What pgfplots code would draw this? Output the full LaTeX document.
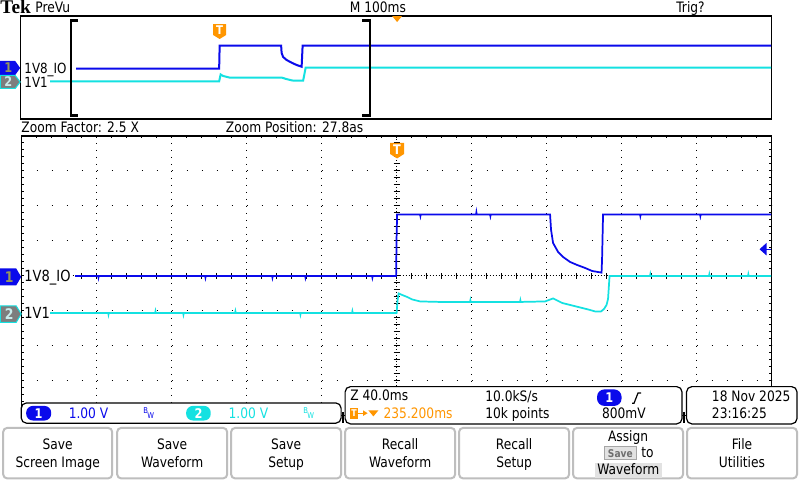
\documentclass[border=0pt]{standalone}
\usepackage{pgfplots}
\pgfplotsset{compat=1.18}
\usepackage{fontspec}
\setmainfont{DejaVu Sans}[FakeStretch=0.85]
\newfontfamily\tekfont{Liberation Serif}
\definecolor{chA}{RGB}{10,10,235}
\definecolor{chB}{RGB}{20,225,225}
\definecolor{tko}{RGB}{255,150,0}
\definecolor{btn}{RGB}{190,190,190}
\definecolor{olv}{RGB}{150,150,90}
\definecolor{gbadge}{RGB}{125,125,125}
\definecolor{sbg}{RGB}{226,226,226}
\definecolor{lcy}{RGB}{200,235,235}
\definecolor{sbd}{RGB}{165,165,165}
\definecolor{stx}{RGB}{110,110,110}
\newcommand\tx[3]{\node[anchor=base west,#3] at #1 {#2};}
\newcommand\tc[3]{\node[anchor=base,#3] at #1 {#2};}
\begin{document}
\begin{tikzpicture}[every node/.style={inner sep=0pt,font=\fontsize{10.8}{12}\selectfont}]
\begin{scope}[x=0.75pt,y=-0.75pt]
\fill[white] (0,0) rectangle (800,480);
% preview frame
\draw[line width=0.8pt] (20.5,16) rectangle (771.5,119);
% main grid
\foreach \i in {1,2,3,4,6,7,8,9} \draw[line width=0.75pt, dash pattern=on 0.75pt off 4.5pt] ({21.5+75*\i},136) -- ({21.5+75*\i},416);
\foreach \j in {1,2,3,5,6,7} \draw[line width=0.75pt, dash pattern=on 0.75pt off 10.5pt] (21.5,{136+35*\j}) -- (771.5,{136+35*\j});
\draw[line width=0.75pt, dash pattern=on 0.75pt off 1.5pt] (21.5,276) -- (771.5,276);
\draw[line width=0.75pt, dash pattern=on 0.75pt off 1.5pt] (396.5,136) -- (396.5,416);
\foreach \k in {1,...,49} \draw[line width=0.75pt] ({21.5+15*\k},273) -- ({21.5+15*\k},279);
\foreach \k in {1,...,39} \draw[line width=0.75pt] (393.5,{136+7*\k}) -- (399.5,{136+7*\k});
\foreach \k in {1,...,49} {\draw[line width=0.75pt] ({21.5+15*\k},136) -- ({21.5+15*\k},138.5);
  \draw[line width=0.75pt] ({21.5+15*\k},416) -- ({21.5+15*\k},413.5);}
\foreach \k in {1,...,39} {\draw[line width=0.75pt] (21,{136+7*\k}) -- (23.5,{136+7*\k});
  \draw[line width=0.75pt] (771.5,{136+7*\k}) -- (769,{136+7*\k});}
\draw[line width=0.8pt] (21,136) rectangle (771.5,416);
\end{scope}
\begin{axis}[at={(0pt,0pt)},anchor=north west,width=600pt,height=360pt,scale only axis,
  xmin=0,xmax=800,ymin=0,ymax=480,y dir=reverse,hide axis,clip=false]
% preview traces
\addplot[chB,line width=1.5pt] coordinates {(50,81.3) (219,81.3) (220.5,74.5) (223,76) (230,77.7) (282,77.7) (286,79) (292,80.5) (303,80.7) (304.5,73) (305.5,67.7) (771,67.7)};
\addplot[chA,line width=1.5pt] coordinates {(76,68.7) (219,68.7) (219.5,45.7) (281,45.7) (281.5,53) (283,57) (286.5,60) (291.5,62.7) (296.5,65) (301.5,66.7) (302.5,45.7) (771,45.7)};
% main traces
\addplot[chB,line width=1.3pt] coordinates {(49,313) (108,313) (108.3,314.5) (108.6,313) (155,313) (155.3,311.5) (155.6,313) (183,313) (183.3,314.5) (183.6,313) (235,313) (235.3,311.5) (235.6,313) (300,313) (300.3,314.5) (300.6,313) (352,313) (352.3,311.5) (352.6,313) (396.5,313) (397.5,300) (398.5,293.5) (402,295) (407,297) (412,299.5) (420,301.5) (440,302) (470,302) (470.3,300.5) (470.6,302) (500,302) (520,302) (520.3,300.5) (520.6,302) (545,301.5) (549,300) (553,298.5) (556,300) (562,303) (570,305) (580,307.5) (588,309.5) (595,311.5) (601,311.5) (604,309) (606.5,305) (608,299) (609.5,276) (650,276) (650.3,274.5) (650.6,276) (709,276) (709.3,274.5) (709.6,276) (748,276) (748.3,274.5) (748.6,276) (771,276)};
\addplot[chA,line width=1.3pt] coordinates {(75,276) (98,276) (98.3,277.5) (98.6,276) (205,276) (205.3,277.5) (205.6,276) (272,276) (272.3,277.5) (272.6,276) (305,276) (305.3,277.5) (305.6,276) (372,276) (372.3,277.5) (372.6,276) (396,276) (396.5,237) (397,214.5) (420,214.5) (420.3,216) (420.6,214.5) (476,214.5) (476.3,212.5) (476.6,214.5) (490,214.5) (490.3,216) (490.6,214.5) (550,214.5) (551,230) (553,243) (558,252) (563,257) (570,262) (577,265) (585,268) (592,271) (601.5,272.7) (602,260) (603,214.5) (640,214.5) (640.3,216) (640.6,214.5) (700,214.5) (700.3,216) (700.6,214.5) (771,214.5)};
\end{axis}
\begin{scope}[x=0.75pt,y=-0.75pt]
% brackets
\draw[line width=1.6pt] (78,20.5) -- (70.5,20.5) -- (70.5,115.5) -- (78,115.5);
\draw[line width=1.6pt] (362,20.5) -- (369.5,20.5) -- (369.5,115.5) -- (362,115.5);
% top texts
\tx{(0,13.8)}{\tekfont\bfseries\fontsize{14.5}{15}\selectfont Tek}{}
\tx{(35,12.7)}{PreVu}{}
\tx{(349.5,12.7)}{M 100ms}{}
\tx{(676,12.7)}{Trig?}{}
\fill[tko] (392,16) -- (402,16) -- (397,22) -- cycle;
\tx{(21,132.5)}{Zoom Factor: 2.5 X}{}
\tx{(225.5,132.5)}{Zoom Position: 27.8as}{}
% T badges
\fill[tko] (213,24) -- (226,24) -- (226,35) -- (219.5,39) -- (213,35) -- cycle;
\node[white,font=\bfseries\fontsize{9}{9}\selectfont] at (219.5,30.5) {T};
\fill[tko] (390,143) -- (404,143) -- (404,154) -- (397,158.5) -- (390,154) -- cycle;
\node[white,font=\bfseries\fontsize{10}{10}\selectfont] at (397,149.5) {T};
% channel badges preview
\fill[chA] (0,61) -- (15,61) -- (20,68) -- (15,75) -- (0,75) -- cycle;
\node[olv,font=\bfseries\fontsize{10}{10}\selectfont] at (8,68) {1};
\filldraw[fill=gbadge,draw=chB,line width=0.75pt] (0.3,75.5) -- (15,75.5) -- (20,82) -- (15,88.5) -- (0.3,88.5) -- cycle;
\node[lcy,font=\bfseries\fontsize{10}{10}\selectfont] at (8,82) {2};
\tx{(24,73.3)}{1V8\_IO}{font=\fontsize{10.5}{12}\selectfont}
\tx{(24,87.8)}{1V1}{font=\fontsize{10.5}{12}\selectfont}
% channel badges main
\fill[chA] (0,268.5) -- (16,268.5) -- (21,277) -- (16,285.5) -- (0,285.5) -- cycle;
\node[olv,font=\bfseries\fontsize{11}{11}\selectfont] at (9,277) {1};
\filldraw[fill=gbadge,draw=chB,line width=0.75pt] (0.3,306) -- (16,306) -- (21,314) -- (16,322.5) -- (0.3,322.5) -- cycle;
\node[lcy,font=\bfseries\fontsize{11}{11}\selectfont] at (9,314) {2};
\tx{(24,281.7)}{1V8\_IO}{fill=white,font=\fontsize{11.5}{12}\selectfont}
\tx{(24,318.7)}{1V1}{fill=white,font=\fontsize{11.5}{12}\selectfont}
% trigger level arrow
\draw[chA,line width=1pt] (762,249.3) -- (771,249.3);
\fill[chA] (759.5,249.3) -- (766.5,243) -- (766.5,255.5) -- cycle;
% status boxes
\filldraw[fill=white,draw=black,line width=0.9pt,rounded corners=4pt] (21,403) rectangle (341,423.3);
\filldraw[fill=white,draw=black,line width=0.9pt,rounded corners=4pt] (345,386.7) rectangle (682,424);
\filldraw[fill=white,draw=black,line width=0.9pt,rounded corners=4pt] (686.5,386.7) rectangle (797,424);
\draw[line width=1.5pt] (342.5,412) -- (342.5,423);
\draw[line width=1.5pt] (684,412) -- (684,423);
\fill[chA,rounded corners=5pt] (26,406) rectangle (51,420.6);
\node[white,font=\bfseries\fontsize{10}{10}\selectfont] at (38.5,413.3) {1};
\tx{(68.3,418.3)}{1.00 V}{chA}
\node[chA,font=\fontsize{6}{6}\selectfont] at (145.5,411) {B};
\node[chA,font=\fontsize{6}{6}\selectfont] at (150.5,416) {W};
\fill[chB,rounded corners=5pt] (186,406) rectangle (210.6,420.6);
\node[white,font=\bfseries\fontsize{10}{10}\selectfont] at (198.3,413.3) {2};
\tx{(228.3,418.3)}{1.00 V}{chB}
\node[chB,font=\fontsize{6}{6}\selectfont] at (305.5,411) {B};
\node[chB,font=\fontsize{6}{6}\selectfont] at (310.5,416) {W};
\tx{(350,400.7)}{Z 40.0ms}{}
\fill[tko] (350,408) rectangle (358,419.3);
\node[white,font=\bfseries\fontsize{7}{7}\selectfont] at (354,413.6) {T};
\draw[tko,line width=1pt] (358,413.3) -- (365,413.3);
\fill[tko] (363,410.5) -- (367.5,413.3) -- (363,416) -- cycle;
\fill[tko] (368.3,410.5) -- (378.3,410.5) -- (373.3,416.5) -- cycle;
\tx{(383.3,418.3)}{235.200ms}{tko}
\tx{(485,401.5)}{10.0kS/s}{}
\tx{(485,418.5)}{10k points}{}
\fill[chA,rounded corners=5.5pt] (597,389.5) rectangle (621.5,406);
\node[white,font=\bfseries\fontsize{10}{10}\selectfont] at (609.2,397.7) {1};
\draw[line width=0.9pt] (632,403.3) -- (634,403.3) -- (638,393) -- (641,393);
\tx{(601.7,418.5)}{800mV}{}
\tx{(711.7,401.5)}{18 Nov 2025}{}
\tx{(711.7,418.5)}{23:16:25}{}
% buttons
\foreach \a/\b in {3/112,117/227,231/341,345/455,459/569,573/683,687/797}
  \draw[btn,line width=1.5pt,rounded corners=3pt] (\a,428) rectangle (\b,478.5);
\tc{(57.5,450)}{Save}{}
\tc{(57.5,467.3)}{Screen Image}{}
\tc{(172,450)}{Save}{}
\tc{(172,467.3)}{Waveform}{}
\tc{(286,450)}{Save}{}
\tc{(286,467.3)}{Setup}{}
\tc{(400,450)}{Recall}{}
\tc{(400,467.3)}{Waveform}{}
\tc{(514,450)}{Recall}{}
\tc{(514,467.3)}{Setup}{}
\tc{(628,441.7)}{Assign}{}
\filldraw[fill=sbg,draw=sbd,line width=0.7pt] (604,447) rectangle (636.5,460);
\node[stx,font=\bfseries\fontsize{8}{8}\selectfont] at (620.3,453.5) {Save};
\tx{(641,457.3)}{to}{}
\fill[sbg] (595,462.7) rectangle (661.7,478);
\tc{(628.3,475)}{Waveform}{}
\tc{(742,450)}{File}{}
\tc{(742,467.3)}{Utilities}{}
\end{scope}
\end{tikzpicture}
\end{document}
